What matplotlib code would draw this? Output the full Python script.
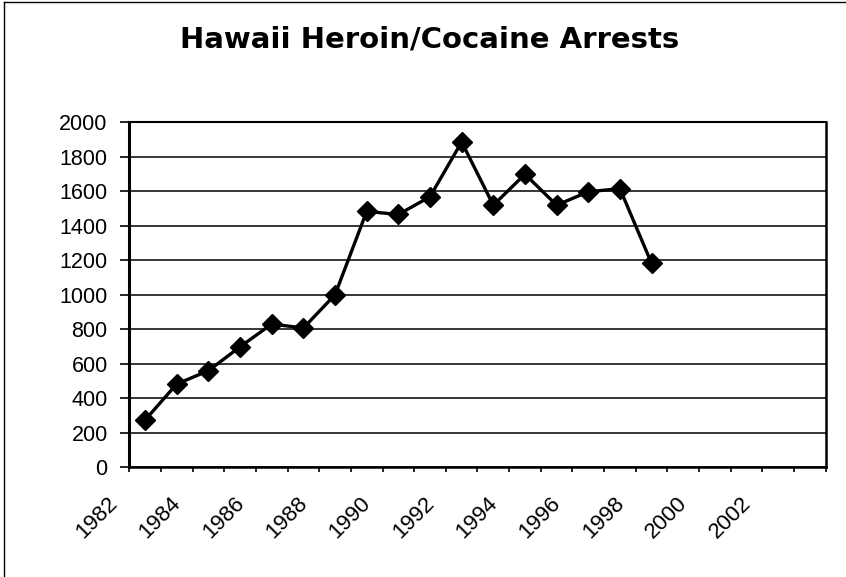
import numpy as np
import matplotlib
matplotlib.use("Agg")
import matplotlib.pyplot as plt
import matplotlib.transforms as mtransforms
from matplotlib.lines import Line2D

# data
years = list(range(1983, 2000))
arrests = [273, 482, 559, 698, 830, 807, 1000, 1484, 1466, 1569,
           1887, 1520, 1700, 1520, 1598, 1616, 1182]
label_years = list(range(1982, 2003, 2))
y_ticks = list(range(0, 2001, 200))
first_cat, last_cat = 1983, 2004  # category slots shown on the axis

plt.rcParams['font.family'] = ['Liberation Sans', 'DejaVu Sans']

fig = plt.figure(figsize=(8.46, 5.77), dpi=100)
ax = fig.add_axes([0.1528, 0.1906, 0.8232, 0.5971])

# gridlines + the data
ax.yaxis.grid(True, color='black', lw=1.1)
ax.set_axisbelow(True)
ax.plot(years, arrests, color='black', lw=2.4, marker='D', ms=10,
        mfc='black', mec='black', zorder=3, clip_on=False)

ax.set_ylim(0, 2000)
ax.set_yticks(y_ticks)
ax.set_yticklabels([str(v) for v in y_ticks], fontsize=15.5)
ax.tick_params(axis='y', length=6.5, width=1.2, pad=9, direction='out')

# tick marks sit between categories, labels are drawn separately
ax.set_xlim(first_cat - 0.5, last_cat + 0.5)
ax.set_xticks([])
ax.set_xticks(np.arange(first_cat - 0.5, last_cat + 1), minor=True)
ax.tick_params(axis='x', which='minor', length=3.6, width=1.2, direction='out')

offset = mtransforms.ScaledTranslation(1 / 100, -33 / 100, fig.dpi_scale_trans)
trans = ax.get_xaxis_transform() + offset
for yr in label_years:
    ax.text(yr, 0, str(yr), transform=trans, rotation=45, ha='right',
            va='center', rotation_mode='anchor', fontsize=16, clip_on=False)

for side, w in [('left', 2.2), ('bottom', 1.8), ('top', 1.5), ('right', 1.8)]:
    ax.spines[side].set_linewidth(w)
    ax.spines[side].set_color('black')

fig.text(0.508, 1 - 48 / 577, "Hawaii Heroin/Cocaine Arrests", ha='center',
         va='baseline', fontsize=21, fontweight='bold', family='DejaVu Sans')

# outer chart frame (only left and top edges are inside the picture)
fig.add_artist(Line2D([4 / 846, 4 / 846], [0, 1 - 2 / 577],
                      transform=fig.transFigure, color='black', lw=1.0))
fig.add_artist(Line2D([4 / 846, 1], [1 - 2 / 577, 1 - 2 / 577],
                      transform=fig.transFigure, color='black', lw=1.0))

fig.savefig('out.png', dpi=100)
